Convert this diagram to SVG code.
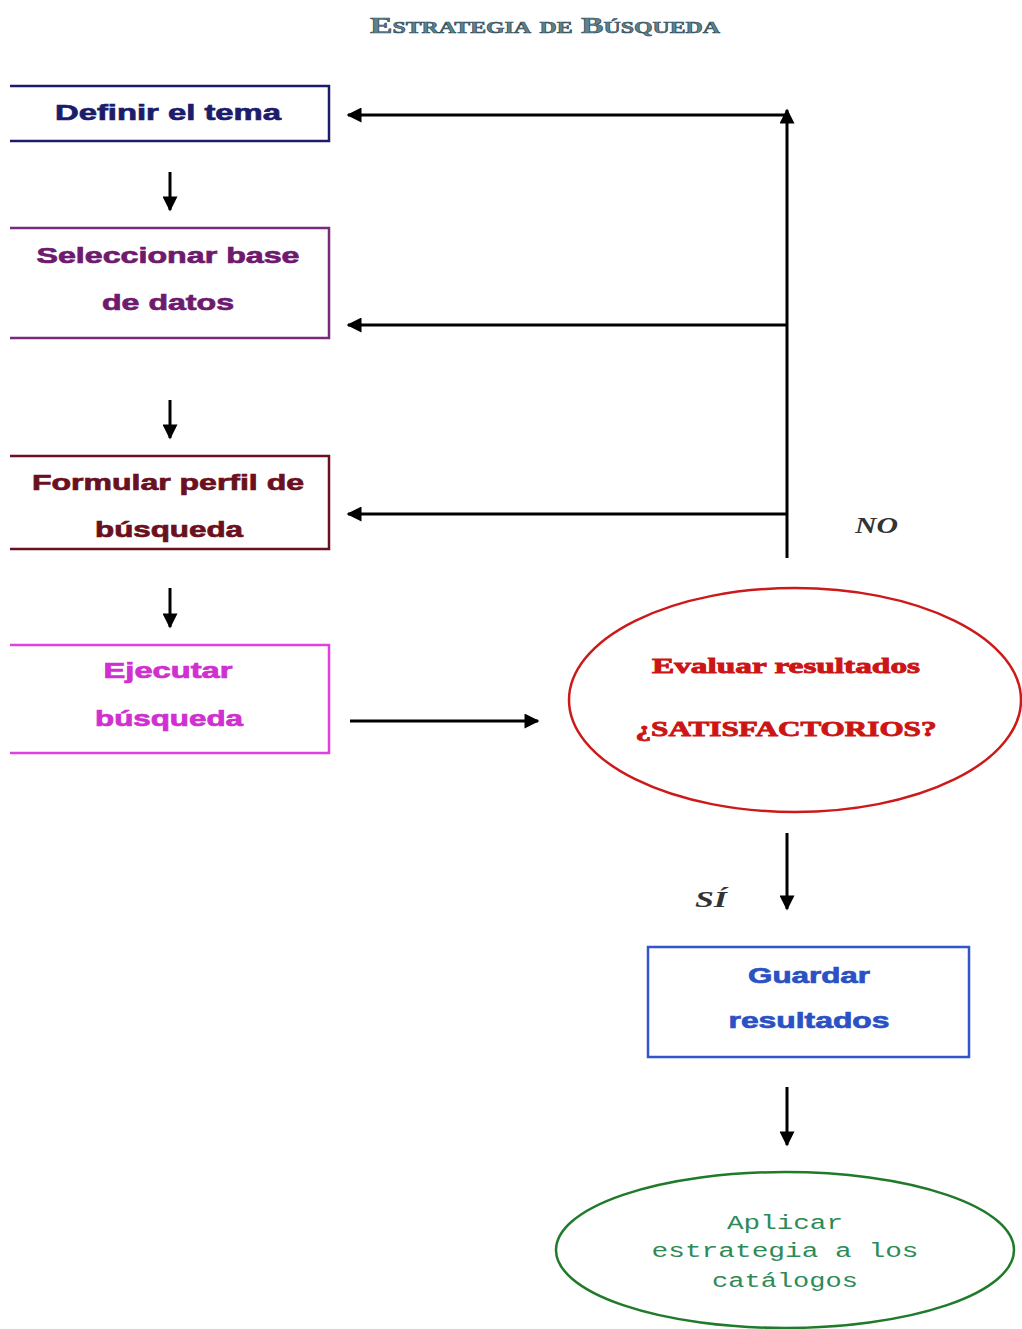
<svg xmlns="http://www.w3.org/2000/svg" width="1022" height="1329" viewBox="0 0 1022 1329">
<defs>
<marker id="ah" viewBox="0 0 10 10" refX="9" refY="5" markerWidth="6" markerHeight="5" orient="auto" markerUnits="strokeWidth">
<path d="M0,0 L10,5 L0,10 z" fill="#000"/>
</marker>
</defs>
<style>
.box{fill:none;stroke-width:2.5}
.bt{font-family:"Liberation Sans",Arial,sans-serif;font-weight:bold;font-size:22px;text-anchor:middle;stroke-width:0.7}
.et{font-family:"Liberation Serif","Times New Roman",serif;font-weight:bold;font-size:22px;text-anchor:middle;fill:#cc1515;stroke:#cc1515;stroke-width:0.9}
.con{stroke:#000;stroke-width:3;fill:none}
.lbl{font-family:"Liberation Serif","Times New Roman",serif;font-style:italic;font-weight:bold;font-size:24px;fill:#333}
</style>
<rect width="1022" height="1329" fill="#fff"/>
<text id="title" x="545" y="33" font-family="Liberation Serif,serif" font-weight="bold" font-size="24" font-variant="small-caps" text-anchor="middle" fill="#5f8290" stroke="#2f4a55" stroke-width="0.6" textLength="350" lengthAdjust="spacingAndGlyphs">Estrategia de Búsqueda</text>

<g id="n1">
<path class="box" d="M10,86 H329 V141 H10" stroke="#1c1c6b"/>
<text class="bt" x="168" y="120" fill="#1c1c6b" stroke="#1c1c6b" textLength="226" lengthAdjust="spacingAndGlyphs">Definir el tema</text>
</g>
<g id="n2">
<path class="box" d="M10,228 H329 V338 H10" stroke="#7a2a7a"/>
<text class="bt" x="168" y="263" fill="#6e1a6e" stroke="#6e1a6e" textLength="263" lengthAdjust="spacingAndGlyphs">Seleccionar base</text>
<text class="bt" x="168" y="310" fill="#6e1a6e" stroke="#6e1a6e" textLength="132" lengthAdjust="spacingAndGlyphs">de datos</text>
</g>
<g id="n3">
<path class="box" d="M10,456 H329 V549 H10" stroke="#6b1020"/>
<text class="bt" x="168" y="490" fill="#6b1020" stroke="#6b1020" textLength="272" lengthAdjust="spacingAndGlyphs">Formular perfil de</text>
<text class="bt" x="169" y="537" fill="#6b1020" stroke="#6b1020" textLength="148" lengthAdjust="spacingAndGlyphs">búsqueda</text>
</g>
<g id="n4">
<path class="box" d="M10,645 H329 V753 H10" stroke="#e040e0"/>
<text class="bt" x="168" y="678" fill="#d030d0" stroke="#d030d0" textLength="129" lengthAdjust="spacingAndGlyphs">Ejecutar</text>
<text class="bt" x="169" y="726" fill="#d030d0" stroke="#d030d0" textLength="148" lengthAdjust="spacingAndGlyphs">búsqueda</text>
</g>
<g id="n5">
<ellipse cx="795" cy="700" rx="226" ry="112" fill="none" stroke="#cc1a1a" stroke-width="2.5"/>
<text class="et" x="786" y="673" textLength="268" lengthAdjust="spacingAndGlyphs">Evaluar resultados</text>
<text class="et" x="786" y="736" textLength="301" lengthAdjust="spacingAndGlyphs">¿SATISFACTORIOS?</text>
</g>
<g id="n6">
<rect class="box" x="648" y="947" width="321" height="110" stroke="#3355cc"/>
<text class="bt" x="809" y="983" fill="#2a52c4" stroke="#2a52c4" textLength="122" lengthAdjust="spacingAndGlyphs">Guardar</text>
<text class="bt" x="809" y="1028" fill="#2a52c4" stroke="#2a52c4" textLength="161" lengthAdjust="spacingAndGlyphs">resultados</text>
</g>
<g id="n7">
<ellipse cx="785" cy="1250" rx="229" ry="78" fill="none" stroke="#1f7a2a" stroke-width="2.5"/>
<g font-family="Liberation Mono,monospace" font-size="20" text-anchor="middle" fill="#2e8b57">
<text x="785" y="1229" textLength="116" lengthAdjust="spacingAndGlyphs">Aplicar</text>
<text x="785" y="1257" textLength="267" lengthAdjust="spacingAndGlyphs">estrategia a los</text>
<text x="785" y="1287" textLength="146" lengthAdjust="spacingAndGlyphs">catálogos</text>
</g>
</g>

<g id="connectors">
<line class="con" x1="170" y1="172" x2="170" y2="210" marker-end="url(#ah)"/>
<line class="con" x1="170" y1="400" x2="170" y2="438" marker-end="url(#ah)"/>
<line class="con" x1="170" y1="588" x2="170" y2="627" marker-end="url(#ah)"/>
<line class="con" x1="350" y1="721" x2="538" y2="721" marker-end="url(#ah)"/>
<line class="con" x1="787" y1="558" x2="787" y2="110" marker-end="url(#ah)"/>
<line class="con" x1="787" y1="115" x2="348" y2="115" marker-end="url(#ah)"/>
<line class="con" x1="787" y1="325" x2="348" y2="325" marker-end="url(#ah)"/>
<line class="con" x1="787" y1="514" x2="348" y2="514" marker-end="url(#ah)"/>
<line class="con" x1="787" y1="833" x2="787" y2="909" marker-end="url(#ah)"/>
<line class="con" x1="787" y1="1087" x2="787" y2="1145" marker-end="url(#ah)"/>
<text class="lbl" x="855" y="533" textLength="43" lengthAdjust="spacingAndGlyphs">NO</text>
<text class="lbl" x="695" y="907" textLength="32" lengthAdjust="spacingAndGlyphs">SÍ</text>
</g>
</svg>
